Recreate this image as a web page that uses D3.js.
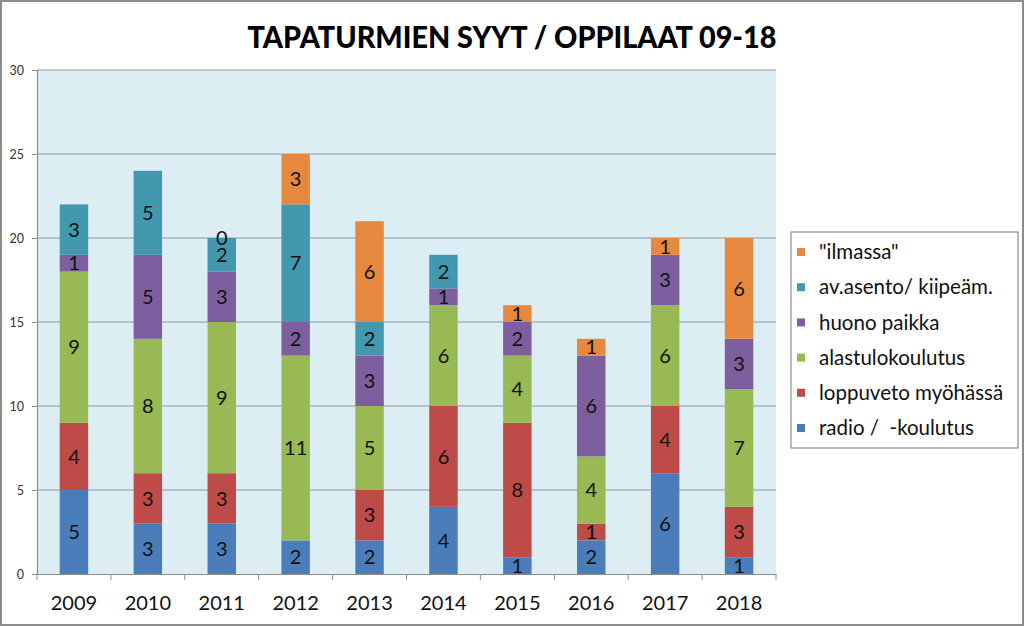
<!DOCTYPE html>
<html><head><meta charset="utf-8">
<script src="https://cdn.jsdelivr.net/npm/d3@7"></script>
<style>body{margin:0;background:#fff}svg{display:block}</style>
</head><body>
<svg id="c" width="1024" height="626"></svg>
<script>
const years = ["2009","2010","2011","2012","2013","2014","2015","2016","2017","2018"];
const seriesNames = ["radio /  -koulutus","loppuveto myöhässä","alastulokoulutus","huono paikka","av.asento/ kiipeäm.","\"ilmassa\""];
const seriesColors = ["#4A7DBA","#BE4B48","#98B954","#7D5FA0","#4198AF","#E6883E"];
const radio     = [5,3,3,2,2,4,1,2,6,1];
const loppuveto = [4,3,3,null,3,6,8,1,4,3];
const alastulo  = [9,8,9,11,5,6,4,4,6,7];
const huono     = [1,5,3,2,3,1,2,6,3,3];
const avasento  = [3,5,2,7,2,2,null,null,null,null];
const ilmassa   = [null,null,0,3,6,null,1,1,1,6];
const yTicks = [0,5,10,15,20,25,30];
const title = "TAPATURMIEN SYYT / OPPILAAT 09-18";

const seriesValues = [radio,loppuveto,alastulo,huono,avasento,ilmassa];
const svg = d3.select("#c");
const font = "Lato, 'Open Sans', sans-serif";
const M = {l:37, r:776, t:70, b:574};

svg.append("rect").attr("x",1).attr("y",1).attr("width",1022).attr("height",624)
  .attr("fill","#fff").attr("stroke","#8c8c8c").attr("stroke-width",2);

const x = d3.scaleBand().domain(years).range([M.l,M.r]).paddingInner(0).paddingOuter(0);
const y = d3.scaleLinear().domain([0,30]).range([M.b,M.t]);
const barW = x.bandwidth()*0.385;

svg.append("rect").attr("x",M.l).attr("y",M.t).attr("width",M.r-M.l).attr("height",M.b-M.t)
  .attr("fill","#DCEEF4");
svg.append("g").selectAll("line").data(yTicks.filter(d=>d>0)).join("line")
  .attr("x1",M.l).attr("x2",M.r).attr("y1",d=>y(d)).attr("y2",d=>y(d))
  .attr("stroke","#8A9BA3").attr("stroke-width",1.2);

const rows = years.map((yr,i)=>{const o={year:yr}; seriesValues.forEach((s,k)=>o[k]=s[i]||0); return o;});
const stack = d3.stack().keys(seriesValues.map((_,k)=>k))(rows);
const g = svg.append("g");
stack.forEach((layer,k)=>{
  g.append("g").selectAll("rect").data(layer).join("rect")
    .attr("x",(d,i)=>x(years[i])+x.bandwidth()/2-barW/2)
    .attr("width",barW)
    .attr("y",d=>y(d[1]))
    .attr("height",d=>y(d[0])-y(d[1]))
    .attr("fill",seriesColors[k]);
});
stack.forEach((layer,k)=>{
  g.append("g").selectAll("text").data(layer.map((d,i)=>({d,i,v:seriesValues[k][i]})).filter(o=>o.v!==null))
    .join("text")
    .attr("x",o=>x(years[o.i])+x.bandwidth()/2)
    .attr("y",o=>y((o.d[0]+o.d[1])/2))
    .attr("dy","0.36em")
    .attr("text-anchor","middle")
    .attr("font-family",font).attr("font-size",20).attr("fill","#111")
    .text(o=>o.v);
});

const ya = svg.append("g").attr("transform",`translate(${M.l},0)`)
  .call(d3.axisLeft(y).tickValues(yTicks).tickSize(5).tickPadding(8));
ya.select(".domain").attr("stroke","#8c8c8c").attr("stroke-width",1.2);
ya.selectAll(".tick line").attr("stroke","#8c8c8c");
ya.selectAll("text").attr("font-family",font).attr("font-size",12.5).attr("fill","#333");

const xa = svg.append("g").attr("transform",`translate(0,${M.b})`)
  .call(d3.axisBottom(x).tickSize(0).tickPadding(22));
xa.select(".domain").attr("stroke","#8c8c8c").attr("stroke-width",1.2);
xa.selectAll("text").attr("font-family",font).attr("font-size",20).attr("fill","#111");
xa.append("g").selectAll("line").data(years.concat(["end"])).join("line")
  .attr("x1",(d,i)=>M.l+i*x.step()).attr("x2",(d,i)=>M.l+i*x.step())
  .attr("y1",0).attr("y2",6).attr("stroke","#8c8c8c");

svg.append("text").attr("x",512).attr("y",48).attr("text-anchor","middle")
  .attr("font-family",font).attr("font-weight",900).attr("font-size",31).attr("fill","#000")
  .attr("textLength",529).attr("lengthAdjust","spacingAndGlyphs")
  .text(title);

const lg = svg.append("g");
lg.append("rect").attr("x",791).attr("y",232).attr("width",227).attr("height",216)
  .attr("fill","#fff").attr("stroke","#777").attr("stroke-width",1);
const legOrder = d3.range(seriesNames.length).reverse();
const ly = d3.scalePoint().domain(legOrder).range([252,428]);
legOrder.forEach(k=>{
  lg.append("rect").attr("x",797).attr("y",ly(k)-4).attr("width",8).attr("height",8).attr("fill",seriesColors[k]);
  lg.append("text").attr("x",819).attr("y",ly(k)).attr("dy","0.35em")
    .style("white-space","pre")
    .attr("font-family",font).attr("font-size",20.5).attr("fill","#111").text(seriesNames[k]);
});
</script>
</body></html>
